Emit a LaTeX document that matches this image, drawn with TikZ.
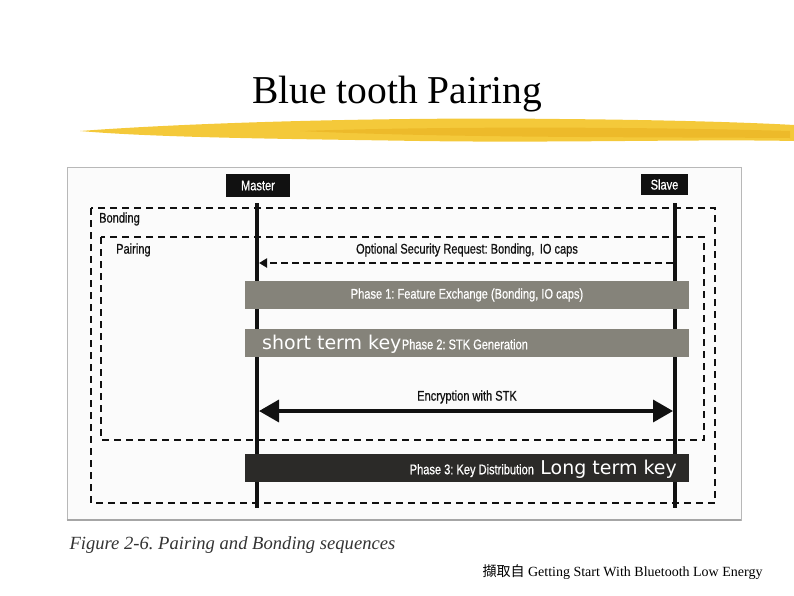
\documentclass[tikz,border=0pt]{standalone}
\usepackage{fontspec}
\setmainfont{Liberation Serif}
\newfontfamily\labelfont[FakeStretch=0.79,FakeBold=0.6]{Liberation Sans}
\newfontfamily\keyfont{DejaVu Sans}
\newfontfamily\cjkfont{Noto Sans CJK TC}
\usetikzlibrary{arrows.meta,positioning}
\definecolor{ink}{HTML}{111111}
\definecolor{phasegray}{HTML}{85837A}
\definecolor{phasedark}{HTML}{2B2A28}
\definecolor{framegray}{HTML}{B8B8B8}
\definecolor{brush}{HTML}{F4C93A}
\definecolor{brushdeep}{HTML}{E9B020}
\definecolor{captioncol}{HTML}{333333}
\frenchspacing

\begin{document}
\begin{tikzpicture}[x=1pt, y=-1pt, >=Stealth]
 \tikzstyle{actor}=[rectangle,fill=ink,text=white,inner sep=0pt,font=\labelfont\fontsize{14}{16}\selectfont]
 \tikzstyle{lifeline}=[draw=ink,line width=4pt]
 \tikzstyle{dashbox}=[draw=ink,line width=1.8pt,dash pattern=on 7pt off 5pt]
 \tikzstyle{phasebar}=[rectangle,inner sep=0pt,minimum width=444pt,minimum height=28pt]
 \tikzstyle{lbl}=[inner sep=0pt,text=ink,font=\labelfont\fontsize{14}{16}\selectfont]
 \tikzstyle{phasetext}=[inner sep=0pt,text=white,font=\labelfont\fontsize{14}{16}\selectfont]
 \tikzstyle{keytext}=[inner sep=0pt,text=white,font=\keyfont\fontsize{19}{22}\selectfont]
 \useasboundingbox (0,0) rectangle (794,595);
 % title and brush stroke
 \node[font=\fontsize{39.5}{44}\selectfont] (title) at (397,94) {Blue tooth Pairing};
 \fill[brush] (80,131) .. controls (200,122) and (400,117) .. (560,119) .. controls (680,120) and (760,123) .. (794,125) -- (794,141) .. controls (700,139) and (560,143) .. (420,141) .. controls (300,139) and (160,138) .. (80,131) -- cycle;
 \fill[brushdeep,opacity=0.6] (300,131) .. controls (450,126) and (650,127) .. (790,131) -- (790,138) .. controls (650,137) and (450,138) .. (300,131) -- cycle;
 % figure frame
 \node[draw=framegray,line width=0.8pt,fill=gray!3,minimum width=674pt,minimum height=353pt,inner sep=0pt] (frame) at (404,343.5) {};
 \draw[gray!70,line width=2pt] (frame.south west) -- (frame.south east);
 % bonding and pairing regions
 \draw[dashbox] (91,208) rectangle (715,503);
 \draw[dashbox] (101,237) rectangle (704,440);
 \node[lbl,anchor=west] (bonding) at (99,219) {Bonding};
 \node[lbl,anchor=west] (pairing) at (116,250) {Pairing};
 % actors
 \node[actor,minimum width=64pt,minimum height=23pt] (master) at (258,185.5) {Master};
 \node[actor,minimum width=47pt,minimum height=21pt] (slave) at (664.5,184.5) {Slave};
 \coordinate (mtop) at (257,203);
 \coordinate (mbot) at (257,508);
 \coordinate (stop) at (675,203);
 \coordinate (sbot) at (675,508);
 \draw[lifeline] (mtop) -- (mbot);
 \draw[lifeline] (stop) -- (sbot);
 % messages
 \node[lbl] (request) at (467,250) {Optional Security Request: Bonding,\, IO caps};
 \coordinate (sreq) at (673,263);
 \coordinate (mreq) at (259,263);
 \draw[ink,line width=2pt,dash pattern=on 7pt off 4pt,-{Triangle[length=8pt,width=9pt]}] (sreq) -- (mreq);
 \node[phasebar,fill=phasegray] (phaseone) at (467,295) {};
 \node[phasetext] (phaseonetext) at (phaseone) {Phase 1: Feature Exchange (Bonding, IO caps)};
 \node[phasebar,fill=phasegray] (phasetwo) at (467,343) {};
 \node[keytext,anchor=west] (stk) at (262,344) {short term key};
 \node[phasetext,anchor=base west] (phasetwotext) at (stk.base east) {Phase 2: STK Generation};
 \node[lbl] (encrypt) at (467,397) {Encryption with STK};
 \coordinate (menc) at (259,411);
 \coordinate (senc) at (673,411);
 \draw[ink,line width=3.5pt,{Triangle[length=20pt,width=22pt]}-{Triangle[length=20pt,width=22pt]}] (menc) -- (senc);
 \node[phasebar,fill=phasedark] (phasethree) at (467,468) {};
 \node[keytext,anchor=east] (ltk) at (677,469) {Long term key};
 \node[phasetext,anchor=base east,xshift=-6pt] (phasethreetext) at (ltk.base west) {Phase 3: Key Distribution};
 % caption and source
 \node[anchor=west,text=captioncol,font=\itshape\fontsize{18.6}{22}\selectfont] (caption) at (66,545) {Figure 2-6. Pairing and Bonding sequences};
 \node[anchor=east,font=\fontsize{14}{16}\selectfont] (source) at (766,572) {{\cjkfont 擷取自} Getting Start With Bluetooth Low Energy};
\end{tikzpicture}
\end{document}
